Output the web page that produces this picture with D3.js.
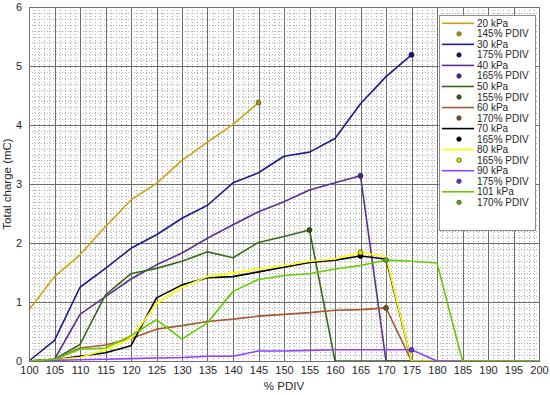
<!DOCTYPE html>
<html>
<head>
<meta charset="utf-8">
<script src="https://cdn.jsdelivr.net/npm/d3@7"></script>
<style>
  body { margin: 0; background: #fff; }
  text { font-family: "Liberation Sans", Arial, sans-serif; }
</style>
</head>
<body>
<svg id="chart" width="550" height="395"></svg>
<script>
const width = 550, height = 395;

// % PDIV steps
const pdiv = d3.range(100, 201, 5);
const xTicks = d3.range(100, 201, 5);
const yTicks = [0, 1, 2, 3, 4, 5, 6];

// total charge (mC) per pressure; zeros after breakdown
const kpa20 = [0.87, 1.43, 1.80, 2.28, 2.73, 3.01, 3.40, 3.71, 4.01, 4.38];
const kpa30 = [0, 0.35, 1.25, 1.57, 1.91, 2.14, 2.42, 2.64, 3.02, 3.19, 3.47, 3.54, 3.77, 4.36, 4.82, 5.19];
const kpa40 = [0, 0.03, 0.79, 1.09, 1.39, 1.63, 1.83, 2.08, 2.31, 2.53, 2.70, 2.90, 3.02, 3.14, 0, 0, 0, 0, 0, 0, 0];
const kpa50 = [0, 0.03, 0.28, 1.12, 1.48, 1.57, 1.69, 1.85, 1.75, 2.01, 2.11, 2.22, 0, 0, 0, 0, 0, 0, 0, 0, 0];
const kpa60 = [0, 0.02, 0.22, 0.27, 0.38, 0.54, 0.60, 0.67, 0.71, 0.76, 0.79, 0.82, 0.86, 0.87, 0.90, 0, 0, 0, 0, 0, 0];
const kpa70 = [0, 0.02, 0.08, 0.14, 0.26, 1.07, 1.29, 1.41, 1.43, 1.51, 1.59, 1.67, 1.71, 1.78, 1.73, 0, 0, 0, 0, 0, 0];
const kpa80 = [0, 0.02, 0.06, 0.19, 0.38, 0.97, 1.25, 1.43, 1.49, 1.56, 1.62, 1.69, 1.73, 1.84, 1.77, 0, 0, 0, 0, 0, 0];
const kpa90 = [0, 0.01, 0.02, 0.03, 0.04, 0.05, 0.06, 0.08, 0.08, 0.17, 0.17, 0.18, 0.19, 0.19, 0.19, 0.19, 0, 0, 0, 0, 0];
const kpa101 = [0, 0.03, 0.20, 0.22, 0.43, 0.70, 0.37, 0.65, 1.18, 1.38, 1.45, 1.48, 1.56, 1.62, 1.71, 1.69, 1.66, 0, 0, 0, 0];

const seriesNames = ["20 kPa", "30 kPa", "40 kPa", "50 kPa", "60 kPa", "70 kPa", "80 kPa", "90 kPa", "101 kPa"];
const seriesValues = [kpa20, kpa30, kpa40, kpa50, kpa60, kpa70, kpa80, kpa90, kpa101];
// breakdown point marked on each curve
const markerPdiv = [145, 175, 165, 155, 170, 165, 165, 175, 170];
const markerLabels = markerPdiv.map(d => d + "% PDIV");

const lineColors = ["#c9a410", "#1c1c8c", "#5e2d91", "#356b14", "#a35a2c", "#000000", "#ffff00", "#9440ff", "#66cc00"];
const dotColors = ["#a88a1c", "#141470", "#4a2a78", "#2f5a18", "#7a4a22", "#000000", "#eaea00", "#6434c8", "#5f9a2a"];

const margin = {left: 29, right: 11, top: 7, bottom: 34};
const font = "'Liberation Sans', Arial, sans-serif";

const svg = d3.select("#chart");

const x = d3.scaleLinear().domain([100, 200]).range([margin.left, width - margin.right]);
const y = d3.scaleLinear().domain([0, 6]).range([height - margin.bottom, margin.top]);

const plot = svg.append("g");

// minor dotted grid
plot.append("g").selectAll("line")
    .data(d3.range(100, 201, 1).filter(d => d % 5 !== 0))
    .join("line")
    .attr("x1", d => Math.round(x(d)) + 0.5).attr("x2", d => Math.round(x(d)) + 0.5)
    .attr("y1", y(6)).attr("y2", y(0))
    .attr("stroke", "#b0b0b0").attr("stroke-width", 1)
    .attr("stroke-dasharray", "1,2");
plot.append("g").selectAll("line")
    .data(d3.range(1, 60).filter(d => d % 10 !== 0).map(d => d / 10))
    .join("line")
    .attr("y1", d => Math.round(y(d)) + 0.5).attr("y2", d => Math.round(y(d)) + 0.5)
    .attr("x1", x(100)).attr("x2", x(200))
    .attr("stroke", "#b0b0b0").attr("stroke-width", 1)
    .attr("stroke-dasharray", "1,2");

// major grid
plot.append("g").selectAll("line")
    .data(xTicks)
    .join("line")
    .attr("x1", d => Math.round(x(d)) + 0.5).attr("x2", d => Math.round(x(d)) + 0.5)
    .attr("y1", y(6)).attr("y2", y(0))
    .attr("stroke", "#6e6e6e").attr("stroke-width", 1);
plot.append("g").selectAll("line")
    .data(yTicks)
    .join("line")
    .attr("y1", d => Math.round(y(d)) + 0.5).attr("y2", d => Math.round(y(d)) + 0.5)
    .attr("x1", x(100)).attr("x2", x(200))
    .attr("stroke", "#6e6e6e").attr("stroke-width", 1);

// axes (labels only, MATLAB style)
const xAxis = svg.append("g")
    .attr("transform", `translate(0,${y(0)})`)
    .call(d3.axisBottom(x).tickValues(xTicks).tickFormat(d3.format("d")).tickSize(0).tickPadding(5));
const yAxis = svg.append("g")
    .attr("transform", `translate(${x(100)},0)`)
    .call(d3.axisLeft(y).tickValues(yTicks).tickFormat(d3.format("d")).tickSize(0).tickPadding(7));
[xAxis, yAxis].forEach(a => {
    a.select(".domain").remove();
    a.attr("font-family", font).attr("font-size", 11);
    a.selectAll("text").attr("fill", "#262626");
});

svg.append("text")
    .attr("x", (x(100) + x(200)) / 2).attr("y", 390)
    .attr("text-anchor", "middle").attr("font-size", 11.5).attr("fill", "#262626")
    .text("% PDIV");
svg.append("text")
    .attr("transform", `translate(11,${(y(0) + y(6)) / 2}) rotate(-90)`)
    .attr("text-anchor", "middle").attr("font-size", 11.5).attr("fill", "#262626")
    .text("Total charge (mC)");

// curves
const line = d3.line().x(d => x(d[0])).y(d => y(d[1]));
seriesValues.forEach((vals, i) => {
    const pts = vals.map((v, j) => [pdiv[j], v]);
    plot.append("path")
        .attr("d", line(pts))
        .attr("fill", "none")
        .attr("stroke", lineColors[i])
        .attr("stroke-width", 1.6)
        .attr("stroke-linejoin", "round");
});
// breakdown markers
seriesValues.forEach((vals, i) => {
    const j = pdiv.indexOf(markerPdiv[i]);
    plot.append("circle")
        .attr("cx", x(markerPdiv[i])).attr("cy", y(vals[j]))
        .attr("r", 2.5)
        .attr("fill", dotColors[i])
        .attr("stroke", i === 6 ? "#4a4a00" : d3.color(dotColors[i]).darker(1))
        .attr("stroke-width", 0.8);
});

// frame
svg.append("rect")
    .attr("x", x(100) + 0.5).attr("y", y(6) + 0.5)
    .attr("width", x(200) - x(100)).attr("height", y(0) - y(6))
    .attr("fill", "none").attr("stroke", "#6e6e6e");

// legend
const lg = svg.append("g").attr("transform", "translate(439,15)");
lg.append("rect")
    .attr("x", 0.5).attr("y", 0.5).attr("width", 96).attr("height", 215)
    .attr("fill", "#fff").attr("stroke", "#8c8c8c");
const rowH = 10.53;
seriesNames.forEach((name, i) => {
    const y1 = 8.3 + (2 * i) * rowH;
    const y2 = y1 + rowH;
    lg.append("line")
        .attr("x1", 3).attr("x2", 35).attr("y1", y1).attr("y2", y1)
        .attr("stroke", lineColors[i]).attr("stroke-width", 1.6);
    lg.append("text").attr("x", 38).attr("y", y1).attr("dy", "0.35em")
        .attr("font-size", 10).attr("fill", "#262626").text(name);
    lg.append("circle")
        .attr("cx", 20).attr("cy", y2).attr("r", 2.2)
        .attr("fill", dotColors[i])
        .attr("stroke", i === 6 ? "#4a4a00" : d3.color(dotColors[i]).darker(1))
        .attr("stroke-width", 0.8);
    lg.append("text").attr("x", 38).attr("y", y2).attr("dy", "0.35em")
        .attr("font-size", 10).attr("fill", "#262626").text(markerLabels[i]);
});
</script>
</body>
</html>
